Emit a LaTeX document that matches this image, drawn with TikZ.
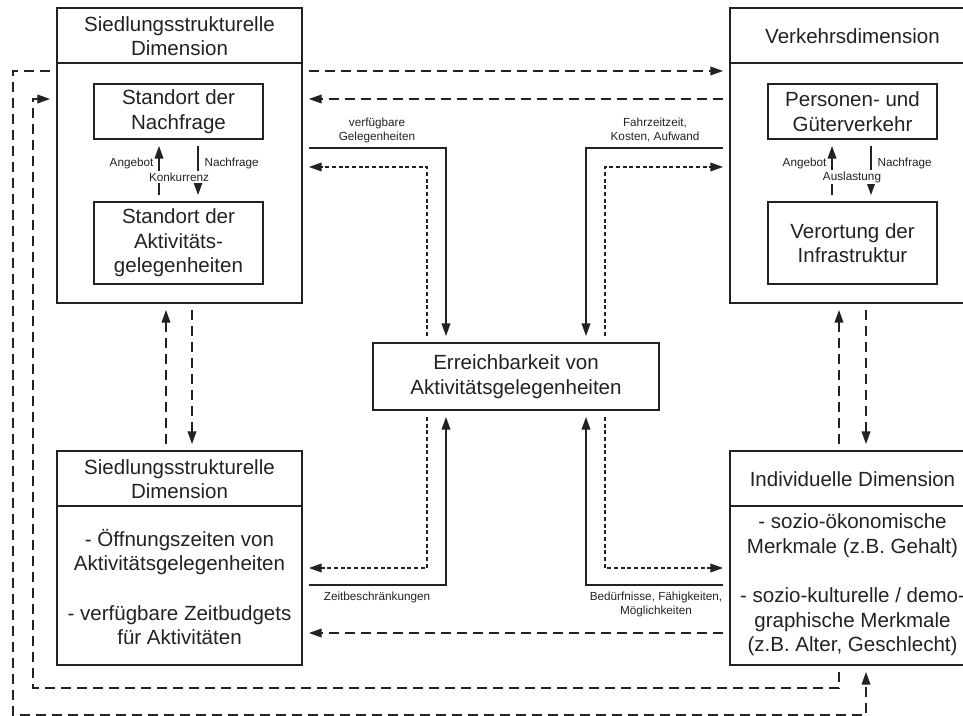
\documentclass[tikz,border=0pt]{standalone}
\usepackage{fontspec}
\setmainfont{Liberation Sans}
\usetikzlibrary{arrows.meta,fit}
\definecolor{ink}{HTML}{222222}
\begin{document}
\begin{tikzpicture}[x=0.75pt,y=-0.75pt,
  every node/.style={text=ink},
  maintext/.style={font=\fontsize{15.4pt}{18.5pt}\selectfont,align=center},
  smalltext/.style={font=\fontsize{8.8pt}{10.5pt}\selectfont,align=center,inner sep=1pt},
  frame/.style={draw=ink,line width=1.4pt,inner sep=0pt,fit={#1}},
  divider/.style={draw=ink,line width=1.4pt},
  conn/.style={draw=ink,line width=1.2pt,-{Triangle[length=9.5pt,width=6.5pt]},
    shorten >=4.5pt,shorten <=4.5pt},
  solidarr/.style={conn},
  longdash/.style={conn,line width=1.1pt,dash pattern=on 7.5pt off 4.5pt},
  shortdash/.style={conn,line width=1.1pt,dash pattern=on 3pt off 2pt},
  gaplabel/.style={smalltext,fill=white,inner sep=1.5pt}]
\useasboundingbox (0,0) rectangle (963,716);
\clip (0,0) rectangle (963,716);

% dimension frames with header rows
\node[frame={(57,8) (302,303)}] (tl) {};
\node[frame={(730,8) (975,303)}] (tr) {};
\node[frame={(57,451) (302,665)}] (bl) {};
\node[frame={(730,451) (975,665)}] (br) {};
\draw[divider] (tl.west |- 0,63) -- (tl.east |- 0,63);
\draw[divider] (tr.west |- 0,63) -- (tr.east |- 0,63);
\draw[divider] (bl.west |- 0,506) -- (bl.east |- 0,506);
\draw[divider] (br.west |- 0,506) -- (br.east |- 0,506);

\node[maintext] (tlh) at (179.5,36) {Siedlungsstrukturelle\\Dimension};
\node[maintext] (trh) at (852.5,36) {Verkehrsdimension};
\node[maintext] (blh) at (179.5,479) {Siedlungsstrukturelle\\Dimension};
\node[maintext] (brh) at (852.5,479) {Individuelle Dimension};

\node[maintext] (blb) at (179.5,587)
  {- Öffnungszeiten von\\Aktivitätsgelegenheiten\\[18.5pt]- verfügbare Zeitbudgets\\für Aktivitäten};
\node[maintext] (brb) at (852.5,585)
  {- sozio-ökonomische\\Merkmale (z.B. Gehalt)\\[18.5pt]- sozio-kulturelle / demo-\\graphische Merkmale\\(z.B. Alter, Geschlecht)};

% inner boxes and their texts
\node[frame={(94,84) (263,139)}] (nach) {};
\node[frame={(94,202) (263,284)}] (akt) {};
\node[frame={(768,84) (937,139)}] (pgv) {};
\node[frame={(768,202) (937,284)}] (infra) {};
\node[frame={(373,343) (659,410)}] (ctr) {};
\node[maintext] (nacht) at (nach.center) {Standort der\\Nachfrage};
\node[maintext] (aktt) at (akt.center) {Standort der\\Aktivitäts-\\gelegenheiten};
\node[maintext] (pgvt) at (pgv.center) {Personen- und\\Güterverkehr};
\node[maintext] (infrat) at (infra.center) {Verortung der\\Infrastruktur};
\node[maintext] (ctrt) at (ctr.center) {Erreichbarkeit von\\Aktivitätsgelegenheiten};

% interactions inside the frames
\draw[solidarr] (akt.north -| 159,0) -- (nach.south -| 159,0);
\draw[solidarr] (nach.south -| 198,0) -- (akt.north -| 198,0);
\node[smalltext,anchor=east] (tlang) at (155,163) {Angebot};
\node[smalltext,anchor=west] (tlnach) at (203,163) {Nachfrage};
\node[gaplabel] (tlkonk) at (179,177) {Konkurrenz};

\draw[solidarr] (infra.north -| 832,0) -- (pgv.south -| 832,0);
\draw[solidarr] (pgv.south -| 871,0) -- (infra.north -| 871,0);
\node[smalltext,anchor=east] (trang) at (828,163) {Angebot};
\node[smalltext,anchor=west] (trnach) at (876,163) {Nachfrage};
\node[gaplabel] (traus) at (852,177) {Auslastung};

% links between the upper frames
\draw[longdash] (tl.east |- 0,71) -- (tr.west |- 0,71);
\draw[longdash] (tr.west |- 0,99) -- (tl.east |- 0,99);

% vertical links between upper and lower frames
\draw[longdash] (bl.north -| 166,0) -- (tl.south -| 166,0);
\draw[longdash] (tl.south -| 192,0) -- (bl.north -| 192,0);
\draw[longdash] (br.north -| 839,0) -- (tr.south -| 839,0);
\draw[longdash] (tr.south -| 866,0) -- (br.north -| 866,0);

% lower frames
\draw[longdash] (br.west |- 0,633) -- (bl.east |- 0,633);

% outer loops
\draw[longdash] (tl.west |- 0,71) -- (13,71) -- (13,715) -- (866,715) -- (br.south -| 866,0);
\draw[longdash] (br.south -| 839,0) -- (839,688) -- (33,688) -- (33,99) -- (tl.west |- 0,99);

% links to accessibility
\draw[solidarr] (tl.east |- 0,148) -- (446,148) -- (ctr.north -| 446,0);
\draw[shortdash] (ctr.north -| 427,0) -- (427,167) -- (tl.east |- 0,167);
\draw[solidarr] (tr.west |- 0,148) -- (586,148) -- (ctr.north -| 586,0);
\draw[shortdash] (ctr.north -| 605,0) -- (605,167) -- (tr.west |- 0,167);
\draw[shortdash] (ctr.south -| 427,0) -- (427,568) -- (bl.east |- 0,568);
\draw[solidarr] (bl.east |- 0,585) -- (446,585) -- (ctr.south -| 446,0);
\draw[shortdash] (ctr.south -| 605,0) -- (605,568) -- (br.west |- 0,568);
\draw[solidarr] (br.west |- 0,585) -- (586,585) -- (ctr.south -| 586,0);

\node[smalltext] (lgel) at (377,130) {verfügbare\\Gelegenheiten};
\node[smalltext] (lfahr) at (655,130) {Fahrzeitzeit,\\Kosten, Aufwand};
\node[smalltext] (lzeit) at (377,597) {Zeitbeschränkungen};
\node[smalltext] (lbed) at (656,604) {Bedürfnisse, Fähigkeiten,\\Möglichkeiten};
\end{tikzpicture}
\end{document}
